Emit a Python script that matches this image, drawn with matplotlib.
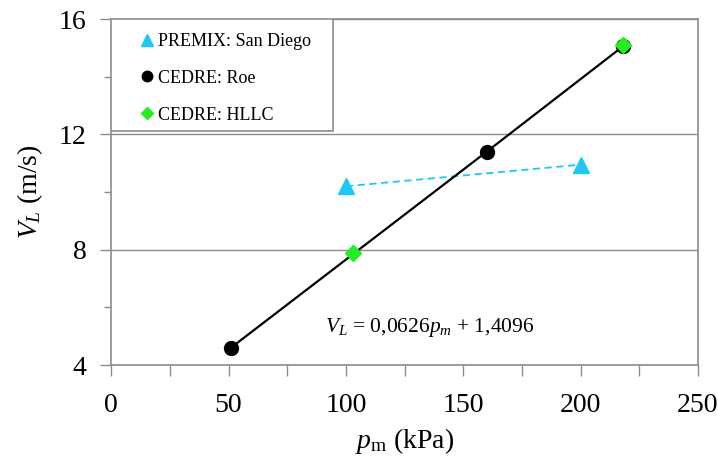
import matplotlib
matplotlib.use("Agg")
import matplotlib.pyplot as plt
from matplotlib.patches import Rectangle

plt.rcParams['font.family'] = ['Liberation Serif', 'DejaVu Serif']
plt.rcParams['mathtext.fontset'] = 'custom'
plt.rcParams['mathtext.rm'] = 'Liberation Serif'
plt.rcParams['mathtext.it'] = 'Liberation Serif:italic'

# data
premix_p = [100, 200]
premix_v = [10.2, 10.95]
roe_p = [51, 160, 218]
roe_v = [4.6, 11.4, 15.05]
hllc_p = [103, 218]
hllc_v = [7.9, 15.1]

x_ticks = [0, 50, 100, 150, 200, 250]
y_ticks = [4, 8, 12, 16]

fig = plt.figure(figsize=(7.18, 4.65), dpi=100)
ax = fig.add_axes([0.155, 0.215, 0.817, 0.744])

ax.plot(premix_p, premix_v, '--', color='#1ec8f5', lw=1.3, dashes=(4, 2.5), zorder=2)
ax.plot(premix_p, premix_v, '^', color='#1ec8f5', ms=12, ls='none', zorder=3,
        label='PREMIX: San Diego')
ax.plot(roe_p, roe_v, '-', color='black', lw=1.6, zorder=2)
ax.plot(roe_p, roe_v, 'o', color='black', ms=10, ls='none', zorder=3,
        label='CEDRE: Roe')
ax.plot(hllc_p, hllc_v, 'D', color='#22ee22', ms=8, ls='none', zorder=4,
        label='CEDRE: HLLC')

ax.set_xlim(0, 250)
ax.set_ylim(4, 16)
ax.set_xticks(x_ticks)
ax.set_yticks(y_ticks)
ax.set_xticks([25, 75, 125, 175, 225], minor=True)
ax.set_yticks([6, 10, 14], minor=True)
ax.grid(axis='y', which='major', color='#8c8c8c', lw=1)
ax.set_axisbelow(True)
for s in ax.spines.values():
    s.set_color('#8c8c8c')
    s.set_linewidth(1.2)
ax.tick_params(which='both', direction='out', length=8, width=1, color='#8c8c8c',
               labelsize=20)
ax.tick_params(axis='x', which='both', pad=12)
ax.tick_params(axis='y', which='major', pad=10)
ax.tick_params(axis='y', which='minor', length=5)

ax.set_xlabel(r'$p_{\rm m}$ (kPa)', fontsize=20, labelpad=6)
ax.set_ylabel(r'$V_L$ (m/s)', fontsize=20, labelpad=10)

ax.text(91, 5.3, r'$V_L$ = 0,0626$p_m$ + 1,4096', fontsize=15.5, va='center', ha='left')

# legend box
ax.add_patch(Rectangle((0, 0.676), 0.378, 0.324, transform=ax.transAxes,
                       facecolor='white', edgecolor='#8c8c8c', lw=1.2, zorder=5))
leg = ax.legend(loc='upper left', bbox_to_anchor=(0.05, 0.96), borderaxespad=0,
                fontsize=13, frameon=False, handlelength=0.7, markerscale=0.75,
                handletextpad=0.25, labelspacing=1.1, borderpad=0)
leg.set_zorder(6)

fig.savefig('out.png', dpi=100)
